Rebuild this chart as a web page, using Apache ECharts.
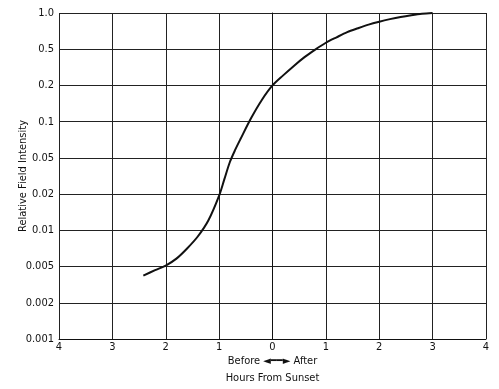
<!DOCTYPE html>
<html>
<head>
<meta charset="utf-8">
<script src="https://cdn.jsdelivr.net/npm/echarts@6/dist/echarts.min.js"></script>
<style>
html,body{margin:0;padding:0;background:#fff;}
#chart{width:499px;height:389px;}
</style>
</head>
<body>
<div id="chart"></div>
<script>
// Tick labels of the evenly spaced intensity scale (bottom to top)
var yTicks = [0.001, 0.002, 0.005, 0.01, 0.02, 0.05, 0.1, 0.2, 0.5, 1.0];
var yTickLabels = ['0.001', '0.002', '0.005', '0.01', '0.02', '0.05', '0.1', '0.2', '0.5', '1.0'];
// Hours from sunset (negative = before, positive = after)
var hours = [-2.42, -2.2, -2.0, -1.8, -1.6, -1.4, -1.2, -1.0, -0.9, -0.8, -0.7, -0.6, -0.4, -0.2, 0, 0.2, 0.4, 0.6, 0.8, 1.0, 1.2, 1.4, 1.6, 1.8, 2.0, 2.2, 2.4, 2.6, 2.8, 3.0];
// Relative field intensity
var intensity = [0.00398, 0.00456, 0.0051, 0.00582, 0.00707, 0.00889, 0.01214, 0.01945, 0.0294, 0.0448, 0.0582, 0.0717, 0.1072, 0.1516, 0.2, 0.258, 0.328, 0.409, 0.495, 0.566, 0.628, 0.693, 0.747, 0.801, 0.847, 0.889, 0.927, 0.959, 0.986, 1.0];

// Map an intensity to its position on the evenly spaced tick grid (piecewise log)
function toGrid(v) {
  for (var k = 0; k < yTicks.length - 1; k++) {
    if (v <= yTicks[k + 1]) {
      return k + Math.log(v / yTicks[k]) / Math.log(yTicks[k + 1] / yTicks[k]);
    }
  }
  return yTicks.length - 1;
}

var data = hours.map(function (h, i) { return [h, toGrid(intensity[i])]; });

var font = "'Liberation Sans Narrow', 'DejaVu Sans Condensed', 'Liberation Sans', sans-serif";
var chart = echarts.init(document.getElementById('chart'), null, {renderer: 'canvas'});
chart.setOption({
  animation: false,
  backgroundColor: '#fff',
  grid: {left: 59, right: 13, top: 13, bottom: 48},
  xAxis: {
    type: 'value', min: -4, max: 4, interval: 1,
    axisLine: {show: true, lineStyle: {color: '#111', width: 1}},
    axisTick: {show: false},
    splitLine: {show: true, lineStyle: {color: '#222', width: 1}},
    axisLabel: {
      color: '#111', fontFamily: font, fontSize: 11, margin: 3,
      formatter: function (v) { return String(Math.abs(v)); }
    },
    name: '{a|Before ◄━━► After}\n{b|Hours From Sunset}',
    nameLocation: 'middle', nameGap: 14, nameMoveOverlap: false,
    nameTextStyle: {
      rich: {
        a: {fontFamily: font, fontSize: 11, color: '#111', height: 17},
        b: {fontFamily: font, fontSize: 11, color: '#111', height: 17}
      },
      verticalAlign: 'top'
    }
  },
  yAxis: {
    type: 'value', min: 0, max: 9, interval: 1,
    axisLine: {show: true, lineStyle: {color: '#111', width: 1}},
    axisTick: {show: false},
    splitLine: {show: true, lineStyle: {color: '#222', width: 1}},
    axisLabel: {
      color: '#111', fontFamily: font, fontSize: 11, margin: 5,
      formatter: function (v) { return yTickLabels[Math.round(v)]; }
    },
    name: 'Relative Field Intensity',
    nameLocation: 'middle', nameGap: 30, nameRotate: 90, nameMoveOverlap: false,
    nameTextStyle: {fontFamily: font, fontSize: 11, color: '#111', verticalAlign: 'bottom'}
  },
  series: [{
    type: 'line', data: data, smooth: 0.3, showSymbol: false,
    lineStyle: {color: '#111', width: 2}
  }]
});
</script>
</body>
</html>
